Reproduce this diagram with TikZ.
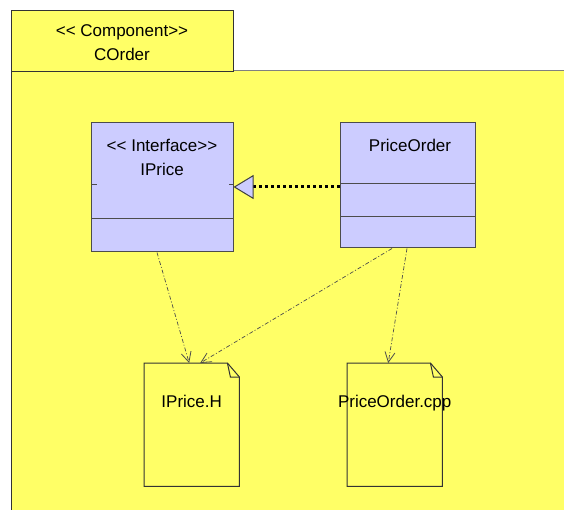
\documentclass[tikz,border=0pt]{standalone}
\usepackage{fontspec}
\newfontfamily\umlfont{Liberation Sans}
\usetikzlibrary{arrows.meta}
\definecolor{umlyellow}{HTML}{FFFF66}
\definecolor{umlblue}{HTML}{CCCCFF}
\tikzset{
  edge/.style={draw=black!80,line width=1pt},
  tabbox/.style={edge,fill=umlyellow,minimum width=222pt,minimum height=61pt,inner sep=0pt},
  classbox/.style={draw=black!70,line width=1pt,fill=umlblue,inner sep=0pt},
  filebox/.style={minimum width=95pt,minimum height=123pt,inner sep=0pt,anchor=north west},
  realize/.style={draw=black,line width=3pt,dash pattern=on 3pt off 3pt,
    -{Triangle[open,fill=umlblue,color=black!75,line width=1pt,length=20pt,width=24pt]}},
  depend/.style={draw=black!70,line width=0.7pt,dash pattern=on 4pt off 2pt on 1pt off 2pt,
    -{Straight Barb[length=10pt,width=10pt,line width=0.8pt]}},
}
\begin{document}
\begin{tikzpicture}[x=1pt,y=-1pt,font=\umlfont\fontsize{17}{24}\selectfont]
\def\umlFile#1#2#3#4{%
  \node[filebox] (#1) at (#2,#3) {};
  \filldraw[edge,fill=umlyellow] (#1.north west) -- ([xshift=-12pt]#1.north east)
    -- ([yshift=-14pt]#1.north east) -- (#1.south east) -- (#1.south west) -- cycle;
  \draw[edge] ([xshift=-12pt]#1.north east) -- ([xshift=-9pt,yshift=-14pt]#1.north east)
    -- ([yshift=-14pt]#1.north east);
  \node[anchor=base] (#1-label) at ([yshift=-44pt]#1.north) {#4};}
\useasboundingbox (0,0) rectangle (564,510);
% component frame
\fill[umlyellow] (11,71) rectangle (564,510);
\draw[black!50,line width=1pt] (233,71) -- (564,71);
\draw[edge] (11,71) -- (11,510);
\node[tabbox,anchor=north west] (tab) at (11,10) {};
\node[align=center] (tabname) at (122,42.8) {<< Component>>\\COrder};
% interface
\node[classbox,minimum width=142pt,minimum height=129pt] (iprice) at (162,187.5) {};
\node[align=center] (ipricename) at (162,157.8) {<< Interface>>\\IPrice};
\draw[classbox] (91,219) -- (233,219);
\draw[classbox] (91,185) -- ++(6,0) (233,185) -- ++(-4,0);
% class
\node[classbox,minimum width=135pt,minimum height=125pt] (porder) at (407.5,185.5) {};
\node[anchor=base] (pordername) at (410,152) {PriceOrder};
\draw[classbox] (340,184) -- (475,184) (340,217) -- (475,217);
% files
\umlFile{hfile}{144}{363}{IPrice.H}
\umlFile{cppfile}{347}{363}{PriceOrder.cpp}
% relations
\draw[realize] ([yshift=-1.5pt]porder.west) -- ([yshift=-1.5pt]porder.west -| iprice.east);
\draw[depend] ([xshift=-5pt]iprice.south) -- ([xshift=-2.5pt]hfile.north);
\draw[depend] ([xshift=-15.5pt]porder.south) -- ([xshift=8.5pt]hfile.north);
\draw[depend] ([xshift=-0.5pt]porder.south) -- ([xshift=-6.5pt]cppfile.north);
\end{tikzpicture}
\end{document}
